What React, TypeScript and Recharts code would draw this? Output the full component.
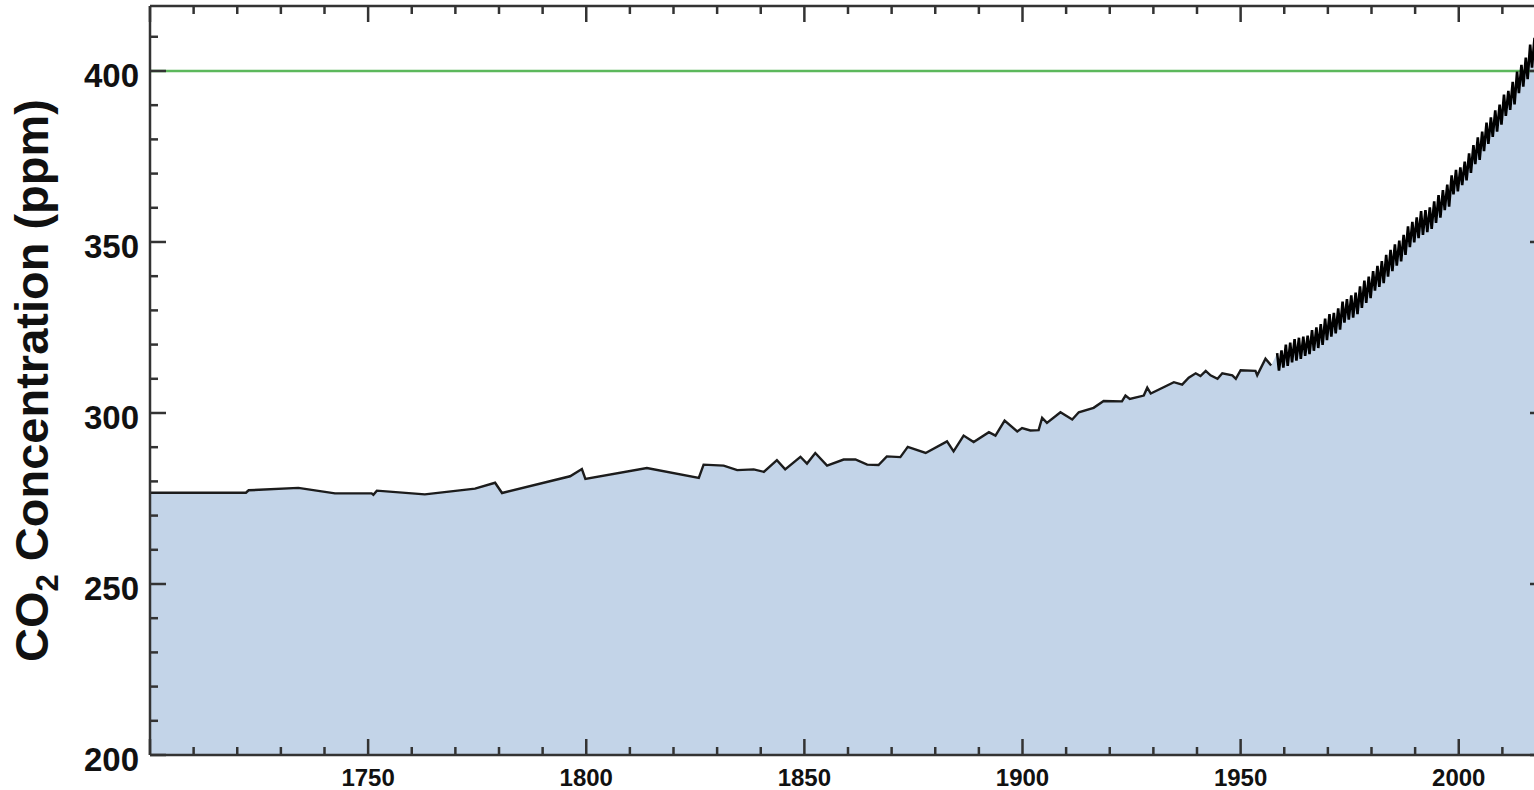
import React from 'react';
import { ComposedChart, Area, Line, XAxis, YAxis, ReferenceLine } from 'recharts';

// Ice-core record (year, ppm)
const iceYears = [
  1700, 1722.0, 1722.6, 1734.0, 1742.4, 1750.8, 1751.2, 1752.0, 1763.0, 1774.5,
  1779.1, 1780.7, 1796.3, 1799.0, 1799.8, 1813.9, 1825.8, 1826.9, 1831.5, 1834.6,
  1838.4, 1840.7, 1843.7, 1845.6, 1849.1, 1850.6, 1852.5, 1855.2, 1859.0, 1861.7,
  1864.4, 1867.0, 1868.9, 1872.0, 1873.7, 1877.8, 1882.7, 1884.2, 1886.5, 1888.8,
  1892.3, 1893.8, 1895.9, 1898.8, 1899.9, 1901.8, 1903.7, 1904.5, 1905.6, 1908.7,
  1911.4, 1912.9, 1916.3, 1918.6, 1922.8, 1923.6, 1924.6, 1927.8, 1928.6, 1929.4,
  1934.7, 1936.6, 1938.1, 1939.7, 1940.8, 1942.0, 1943.1, 1944.7, 1945.8, 1948.1,
  1948.9, 1950.0, 1953.4, 1953.8, 1955.7, 1957.0,
];
const iceCO2 = [
  276.7, 276.7, 277.4, 278.1, 276.5, 276.5, 276.1, 277.3, 276.2, 277.9,
  279.6, 276.6, 281.5, 283.6, 280.7, 283.9, 281.0, 284.9, 284.6, 283.3,
  283.5, 282.8, 286.2, 283.5, 287.2, 285.2, 288.3, 284.6, 286.4, 286.4,
  284.9, 284.8, 287.3, 287.1, 290.1, 288.3, 291.7, 288.8, 293.4, 291.5,
  294.4, 293.4, 297.8, 294.6, 295.6, 294.9, 295.0, 298.6, 297.1, 300.2,
  298.1, 300.2, 301.5, 303.5, 303.4, 305.1, 304.1, 305.1, 307.4, 305.7,
  309.0, 308.3, 310.3, 311.6, 310.8, 312.3, 311.0, 310.0, 311.6, 311.0,
  310.0, 312.5, 312.3, 311.0, 315.9, 313.9,
];

// Mauna Loa record: yearly spring peak and autumn trough (ppm)
const mlYears = [
  1958, 1959, 1960, 1961, 1962, 1963, 1964, 1965, 1966, 1967,
  1968, 1969, 1970, 1971, 1972, 1973, 1974, 1975, 1976, 1977,
  1978, 1979, 1980, 1981, 1982, 1983, 1984, 1985, 1986, 1987,
  1988, 1989, 1990, 1991, 1992, 1993, 1994, 1995, 1996, 1997,
  1998, 1999, 2000, 2001, 2002, 2003, 2004, 2005, 2006, 2007,
  2008, 2009, 2010, 2011, 2012, 2013, 2014, 2015, 2016, 2017,
];
const mlPeak = [
  317.5, 318.3, 320.0, 320.6, 321.6, 322.0, 322.3, 322.6, 324.2, 325.0,
  326.0, 327.6, 328.9, 329.3, 330.6, 332.6, 333.3, 334.4, 335.2, 337.0,
  338.7, 339.9, 341.5, 343.0, 344.4, 346.2, 347.7, 349.3, 350.4, 352.1,
  354.6, 355.9, 357.2, 359.0, 359.3, 360.1, 361.9, 363.7, 365.2, 366.8,
  369.5, 371.1, 371.8, 373.5, 375.9, 378.3, 380.6, 382.3, 384.9, 386.4,
  388.5, 390.2, 393.1, 394.2, 396.8, 399.8, 401.8, 403.9, 407.7, 409.7,
];
const mlTrough = [
  312.4, 313.3, 313.8, 314.8, 315.3, 315.8, 316.7, 317.2, 318.2, 319.0,
  319.9, 321.3, 322.3, 323.3, 324.4, 326.4, 327.3, 327.9, 328.9, 330.7,
  332.2, 333.6, 335.8, 336.9, 338.0, 339.9, 341.5, 343.1, 344.3, 346.2,
  348.5, 349.9, 351.1, 352.1, 352.9, 353.8, 355.6, 357.1, 359.3, 360.3,
  363.9, 364.8, 366.6, 368.0, 370.2, 372.8, 374.0, 376.6, 378.7, 380.7,
  382.3, 384.3, 386.9, 388.6, 390.2, 393.5, 395.4, 397.6, 401.0, 403.4,
];

const xTicks = [
  1700, 1710, 1720, 1730, 1740, 1750, 1760, 1770, 1780, 1790, 1800, 1810, 1820,
  1830, 1840, 1850, 1860, 1870, 1880, 1890, 1900, 1910, 1920, 1930, 1940, 1950,
  1960, 1970, 1980, 1990, 2000, 2010, 2020,
];
const xLabels = [1750, 1800, 1850, 1900, 1950, 2000];
const yTicks = [
  200, 210, 220, 230, 240, 250, 260, 270, 280, 290, 300,
  310, 320, 330, 340, 350, 360, 370, 380, 390, 400, 410,
];
const yLabels = [200, 250, 300, 350, 400];
const targetLevel = 400;

type Row = { year: number; ice?: number; ml?: number; fill: number };
const rows: Row[] = [];
iceYears.forEach((y, i) => rows.push({ year: y, ice: iceCO2[i], fill: iceCO2[i] }));
mlYears.forEach((y, i) => {
  rows.push({ year: y + 0.37, ml: mlPeak[i], fill: mlPeak[i] });
  rows.push({ year: y + 0.79, ml: mlTrough[i], fill: mlTrough[i] });
});

const AXIS = '#333333';
const FONT = '"Liberation Sans", Arial, Helvetica, sans-serif';
const MAJOR_X = [1700, ...xLabels, 2050];

const BottomTick = (props: any) => {
  const { x, y, payload } = props;
  const v = payload.value;
  const len = MAJOR_X.includes(v) ? 16 : 8;
  return (
    <g>
      <line x1={x} x2={x} y1={y} y2={y - len} stroke={AXIS} strokeWidth={2.5} />
      {xLabels.includes(v) && (
        <text x={x} y={y + 31} textAnchor="middle" fontSize={24} fontWeight="bold" fontFamily={FONT} fill="#111">
          {v}
        </text>
      )}
    </g>
  );
};

const TopTick = (props: any) => {
  const { x, y, payload } = props;
  const v = payload.value;
  const len = MAJOR_X.includes(v) ? 16 : 8;
  return <line x1={x} x2={x} y1={y} y2={y + len} stroke={AXIS} strokeWidth={2.5} />;
};

const LeftTick = (props: any) => {
  const { x, y, payload } = props;
  const v = payload.value;
  const major = yLabels.includes(v);
  return (
    <g>
      <line x1={x} x2={x + (major ? 16 : 8)} y1={y} y2={y} stroke={AXIS} strokeWidth={2.5} />
      {major && (
        <text x={x - 11} y={y + 16} textAnchor="end" fontSize={33} fontWeight="bold" fontFamily={FONT} fill="#111">
          {v}
        </text>
      )}
    </g>
  );
};

const RightTick = (props: any) => {
  const { x, y, payload } = props;
  const major = yLabels.includes(payload.value);
  return <line x1={x} x2={x - (major ? 16 : 8)} y1={y} y2={y} stroke={AXIS} strokeWidth={2.5} />;
};

const YTitle = (props: any) => {
  const vb = props.viewBox || {};
  const cy = vb.y !== undefined ? vb.y + vb.height / 2 : 380;
  const cx = 48;
  return (
    <text
      x={cx}
      y={cy}
      transform={`rotate(-90, ${cx}, ${cy})`}
      textAnchor="middle"
      fontSize={47}
      fontWeight="bold"
      fontFamily={FONT}
      fill="#111"
    >
      CO
      <tspan fontSize={31} dy={10}>2</tspan>
      <tspan dy={-10}> Concentration (ppm)</tspan>
    </text>
  );
};

export default function App() {
  return (
    <div style={{ position: 'absolute', left: 0, top: 0, width: 1534, height: 790, overflow: 'hidden', background: '#fff' }}>
      <ComposedChart width={1560} height={790} data={rows} margin={{ top: 0, right: 0, bottom: 0, left: 0 }}>
        <Area
          xAxisId="b"
          yAxisId="l"
          type="linear"
          dataKey="fill"
          stroke="none"
          fill="#c3d4e8"
          fillOpacity={1}
          isAnimationActive={false}
        />
        <ReferenceLine xAxisId="b" yAxisId="l" y={targetLevel} stroke="#5cb85c" strokeWidth={2.5} />
        <Line
          xAxisId="b"
          yAxisId="l"
          type="linear"
          dataKey="ice"
          stroke="#1c1c1c"
          strokeWidth={2.4}
          dot={false}
          isAnimationActive={false}
        />
        <Line
          xAxisId="b"
          yAxisId="l"
          type="linear"
          dataKey="ml"
          stroke="#000"
          strokeWidth={2.6}
          dot={false}
          isAnimationActive={false}
        />
        <XAxis
          xAxisId="b"
          dataKey="year"
          type="number"
          orientation="bottom"
          domain={[1700, 2020]}
          allowDataOverflow
          ticks={xTicks}
          interval={0}
          height={35}
          tickSize={0}
          tickMargin={0}
          tickLine={false}
          axisLine={{ stroke: AXIS, strokeWidth: 2.5 }}
          tick={BottomTick}
        />
        <XAxis
          xAxisId="t"
          dataKey="year"
          type="number"
          orientation="top"
          domain={[1700, 2020]}
          allowDataOverflow
          ticks={xTicks}
          interval={0}
          height={6}
          tickSize={0}
          tickMargin={0}
          tickLine={false}
          axisLine={{ stroke: AXIS, strokeWidth: 2.5 }}
          tick={TopTick}
        />
        <YAxis
          yAxisId="l"
          type="number"
          orientation="left"
          domain={[200, 419]}
          allowDataOverflow
          ticks={yTicks}
          interval={0}
          width={150}
          tickSize={0}
          tickMargin={0}
          tickLine={false}
          axisLine={{ stroke: AXIS, strokeWidth: 2.5 }}
          tick={LeftTick}
          label={YTitle}
        />
        <YAxis
          yAxisId="r"
          type="number"
          orientation="right"
          domain={[200, 419]}
          allowDataOverflow
          ticks={yTicks}
          interval={0}
          width={14}
          tickSize={0}
          tickMargin={0}
          tickLine={false}
          axisLine={{ stroke: AXIS, strokeWidth: 2.5 }}
          tick={RightTick}
        />
      </ComposedChart>
    </div>
  );
}
